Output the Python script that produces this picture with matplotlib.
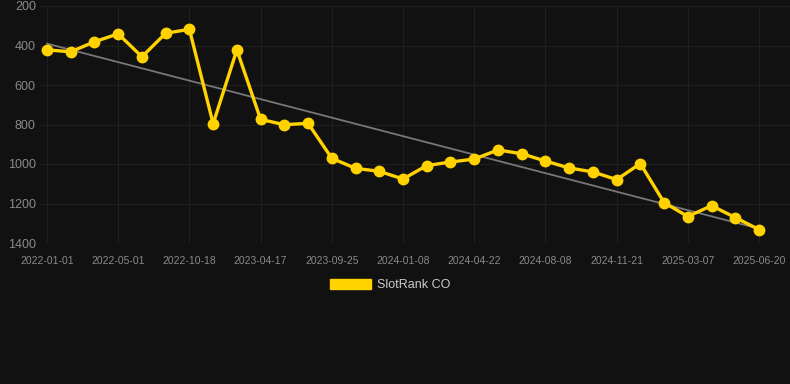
import matplotlib
matplotlib.use("Agg")
import matplotlib.pyplot as plt
from matplotlib.patches import Patch
import numpy as np

dates = [
    "2022-01-01", "2022-02-10", "2022-03-20", "2022-05-01", "2022-06-30", "2022-08-25",
    "2022-10-18", "2022-12-20", "2023-02-20", "2023-04-17", "2023-06-10", "2023-08-01",
    "2023-09-25", "2023-11-01", "2023-12-05", "2024-01-08", "2024-02-12", "2024-03-18",
    "2024-04-22", "2024-05-28", "2024-07-03", "2024-08-08", "2024-09-12", "2024-10-17",
    "2024-11-21", "2024-12-26", "2025-01-30", "2025-03-07", "2025-04-10", "2025-05-15",
    "2025-06-20",
]
ranks = [
    422, 432, 381, 341, 457, 338, 318, 796, 422, 774, 801, 794,
    971, 1022, 1037, 1076, 1008, 990, 975, 929, 948, 985, 1020, 1040,
    1079, 998, 1195, 1266, 1211, 1271, 1332,
]
series_name = "SlotRank CO"
y_ticks = [200, 400, 600, 800, 1000, 1200, 1400]

BG = "#111111"
GOLD = "#FFD200"
GRID = "#1f1f1f"
TXT = "#8a8a8a"

W, H = 790, 384
fig = plt.figure(figsize=(W / 100, H / 100), dpi=100, facecolor=BG)
ax = fig.add_axes([40 / W, 1 - 243 / H, (790 - 40) / W, (243 - 6) / H], facecolor=BG)

x = np.arange(len(dates))
coef = np.polyfit(x, ranks, 1)
ax.plot(x, np.polyval(coef, x), color="#777777", lw=1.3, zorder=2)
ax.plot(x, ranks, color=GOLD, lw=2.4, marker="o", markersize=7.5,
        markerfacecolor=GOLD, markeredgecolor=GOLD, zorder=3)

ax.set_ylim(1400, 200)
ax.set_yticks(y_ticks)
ax.set_yticklabels([str(v) for v in y_ticks])
left = -(47 - 40) / 23.73
right = 30 + (790 - 759) / 23.73
ax.set_xlim(left, right)
ticks = x[::3]
ax.set_xticks(ticks)
ax.set_xticklabels([dates[i] for i in ticks])

ax.grid(True, color=GRID, lw=0.8)
ax.set_axisbelow(True)
for s in ax.spines.values():
    s.set_visible(False)
ax.tick_params(axis="y", length=0, pad=3, colors=TXT, labelsize=9)
ax.tick_params(axis="x", length=0, pad=9, colors=TXT, labelsize=7.5)
for lab in ax.get_xticklabels() + ax.get_yticklabels():
    lab.set_fontfamily("Liberation Sans")

handle = Patch(facecolor=GOLD, edgecolor=GOLD)
leg = fig.legend([handle], [series_name], loc="center", bbox_to_anchor=(390 / W, 1 - 285 / H),
                 frameon=False, handlelength=3.3, handleheight=0.9,
                 handletextpad=0.5, prop={"family": "Liberation Sans", "size": 9})
for t in leg.get_texts():
    t.set_color("#cccccc")

fig.savefig("out.png", dpi=100, facecolor=BG)
